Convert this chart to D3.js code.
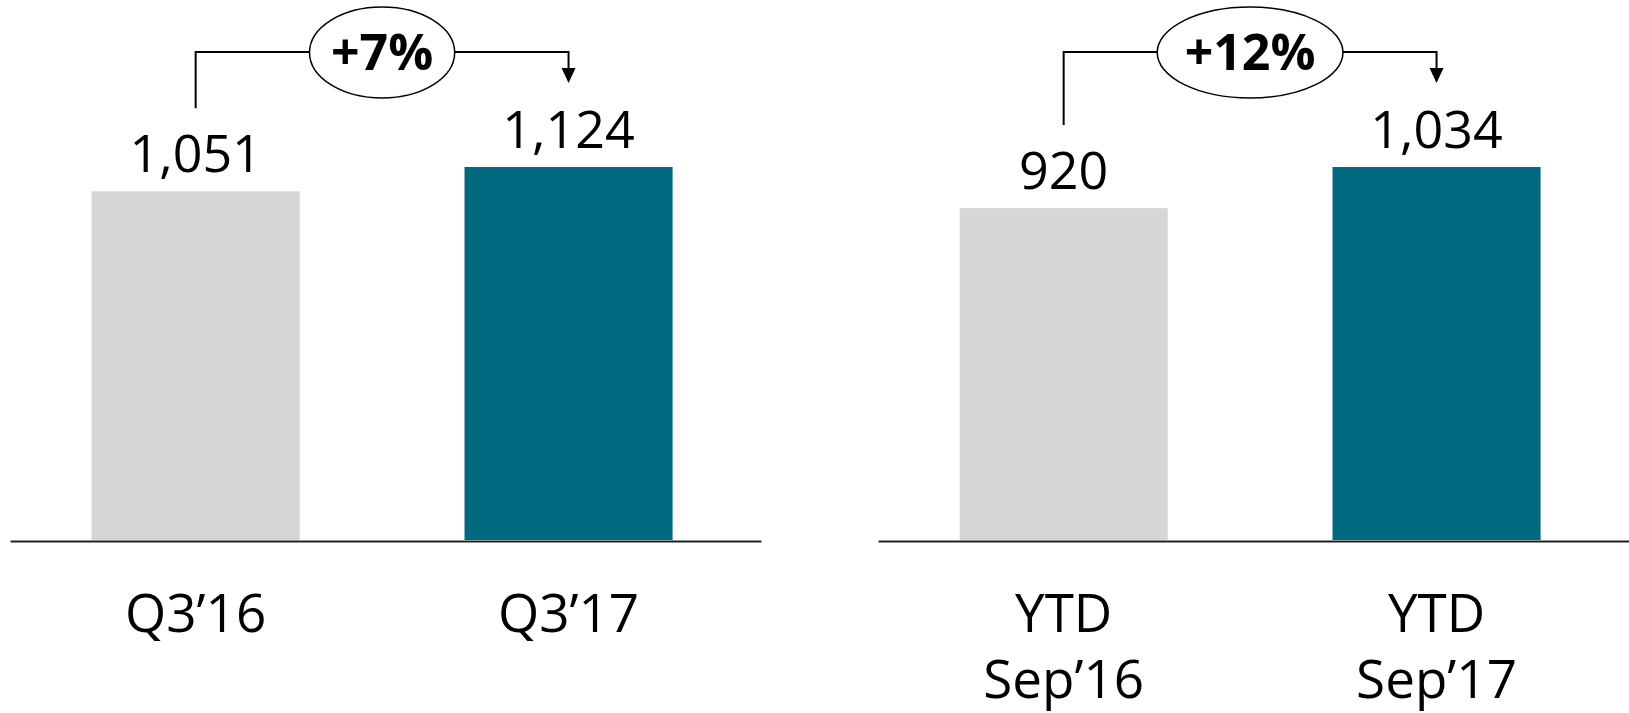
<!DOCTYPE html>
<html>
<head>
<meta charset="utf-8">
<script src="https://cdn.jsdelivr.net/npm/d3@7"></script>
<style>
  body { margin: 0; background: #fff; }
  text { font-family: "Open Sans", sans-serif; fill: #000; }
</style>
</head>
<body>
<div class="container"></div>
<script>
// Chart data
const quarterCategories = [["Q3’16"], ["Q3’17"]];
const quarterValues = [1051, 1124];
const quarterChange = "+7%";

const ytdCategories = [["YTD", "Sep’16"], ["YTD", "Sep’17"]];
const ytdValues = [920, 1034];
const ytdChange = "+12%";

// Dimensions
const w = 1629;
const h = 713;
const baseline = 540;
const topY = 167;
const panelOffset = 868;
const colors = ["#d5d6d8", "#00687f"];
const fmt = d3.format(",");

const svg = d3.select(".container")
  .append("svg")
  .attr("width", w)
  .attr("height", h);

function drawPanel(offsetX, categories, values, change) {
  const g = svg.append("g").attr("transform", `translate(${offsetX},0)`);

  const xScale = d3.scaleBand()
    .domain(d3.range(values.length))
    .range([10, 761])
    .paddingInner(0.442)
    .paddingOuter(0.228)
    .align(0.48);

  const yScale = d3.scaleLinear()
    .domain([0, d3.max(values)])
    .range([baseline, topY]);

  // bars
  g.selectAll("rect")
    .data(values)
    .enter()
    .append("rect")
    .attr("x", (d, i) => xScale(i))
    .attr("y", d => yScale(d))
    .attr("width", xScale.bandwidth())
    .attr("height", d => baseline - yScale(d))
    .attr("fill", (d, i) => colors[i]);

  // baseline axis
  const xAxis = d3.axisBottom(xScale).tickSize(0).tickSizeOuter(0).tickFormat("");
  g.append("g")
    .attr("transform", `translate(0,${baseline + 1})`)
    .call(xAxis)
    .call(a => a.select(".domain").attr("stroke", "#222").attr("stroke-width", 2));

  // value labels
  g.selectAll(".value")
    .data(values)
    .enter()
    .append("text")
    .attr("class", "value")
    .attr("x", (d, i) => xScale(i) + xScale.bandwidth() / 2)
    .attr("y", d => yScale(d) - 19)
    .attr("text-anchor", "middle")
    .style("font-size", "52px")
    .text(d => fmt(d));

  // category labels
  const cat = g.selectAll(".cat")
    .data(categories)
    .enter()
    .append("text")
    .attr("class", "cat")
    .attr("x", (d, i) => xScale(i) + xScale.bandwidth() / 2)
    .attr("y", 632)
    .attr("text-anchor", "middle")
    .style("font-size", "53px");
  cat.selectAll("tspan")
    .data(d => d)
    .enter()
    .append("tspan")
    .attr("x", function() { return this.parentNode.getAttribute("x"); })
    .attr("dy", (d, i) => i === 0 ? 0 : 66)
    .text(d => d);

  // change bracket
  const x1 = xScale(0) + xScale.bandwidth() / 2;
  const x2 = xScale(1) + xScale.bandwidth() / 2;
  const lineY = 52;
  const startY = yScale(values[0]) - 83;
  const tipY = yScale(values[1]) - 84;
  const headH = 15;

  g.append("path")
    .attr("d", `M${x1},${startY}V${lineY}H${x2}V${tipY - headH}`)
    .attr("fill", "none")
    .attr("stroke", "#000")
    .attr("stroke-width", 2);

  g.append("path")
    .attr("d", `M${x2 - 7},${tipY - headH}L${x2 + 7},${tipY - headH}L${x2},${tipY}Z`)
    .attr("fill", "#000");

  const cx = (x1 + x2) / 2;
  const ellipse = g.append("ellipse")
    .attr("cx", cx)
    .attr("cy", 52.5)
    .attr("ry", 45.5)
    .attr("fill", "#fff")
    .attr("stroke", "#000")
    .attr("stroke-width", 1.5);

  const label = g.append("text")
    .attr("x", cx)
    .attr("y", 70)
    .attr("text-anchor", "middle")
    .style("font-size", "50px")
    .style("font-weight", "bold")
    .text(change);

  ellipse.attr("rx", label.node().getComputedTextLength() * 0.71);
}

drawPanel(0, quarterCategories, quarterValues, quarterChange);
drawPanel(panelOffset, ytdCategories, ytdValues, ytdChange);
</script>
</body>
</html>
